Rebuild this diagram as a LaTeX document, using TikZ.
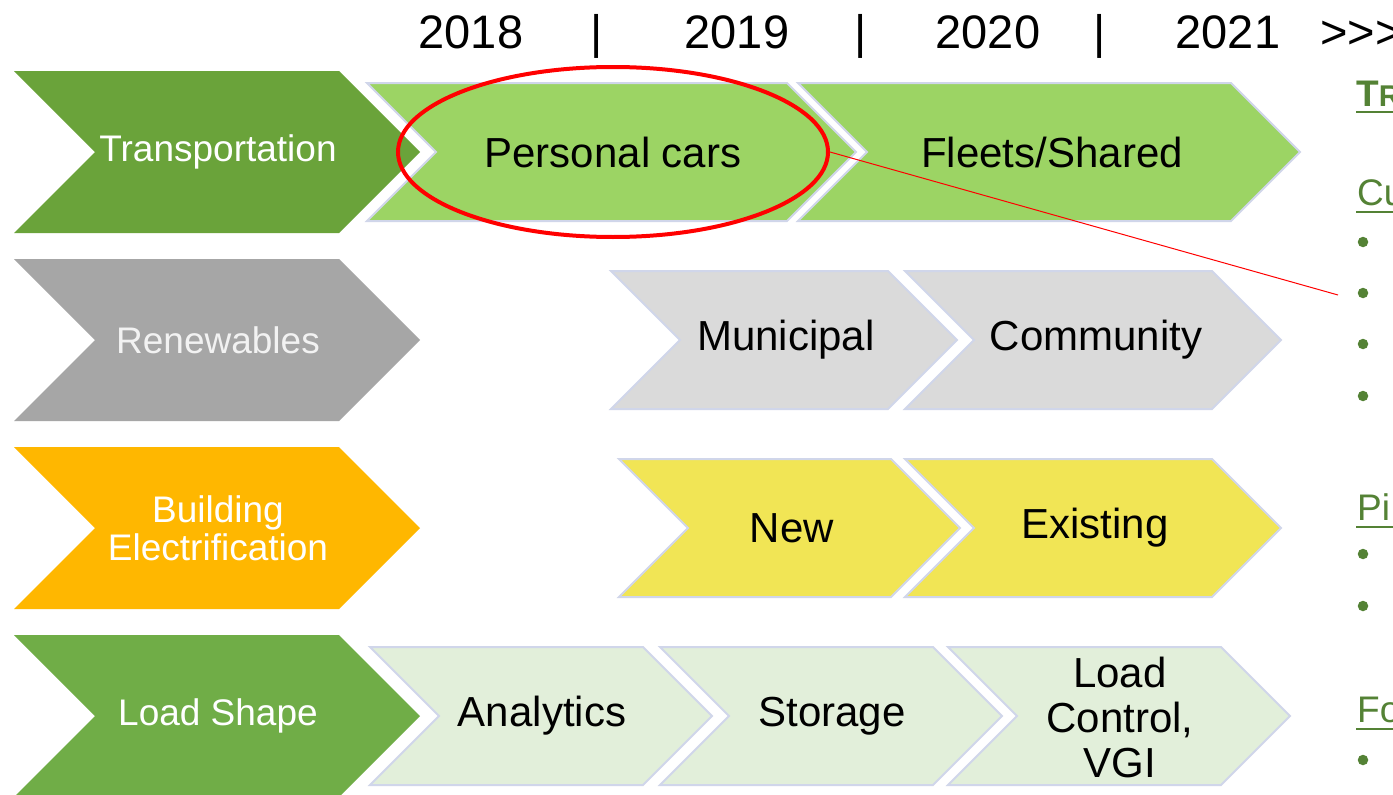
\documentclass[tikz,border=0pt]{standalone}
\usepackage{fontspec}
\setmainfont{Liberation Sans}
\usetikzlibrary{shapes.geometric}
\definecolor{dkgreen}{HTML}{6AA33A}
\definecolor{lsgreen}{HTML}{70AD47}
\definecolor{ltgreen}{HTML}{9CD464}
\definecolor{dkgray}{HTML}{A6A6A6}
\definecolor{ltgray}{HTML}{DADADA}
\definecolor{orangec}{HTML}{FFB700}
\definecolor{yellowc}{HTML}{F1E555}
\definecolor{palegreen}{HTML}{E2EFDA}
\definecolor{edgec}{HTML}{D0D6EA}
\definecolor{hgreen}{HTML}{548235}
\newcommand\chev[5]{% style, xleft, xtip, ycenter, half-height
  \path[#1] (#2,#4-#5) -- (#3-#5,#4-#5) -- (#3,#4) -- (#3-#5,#4+#5) -- (#2,#4+#5) -- (#2+#5,#4) -- cycle;}
\tikzset{
  bigchev/.style={fill=#1},
  smallchev/.style={fill=#1, draw=edgec, line width=2pt, line join=miter},
  lefttxt/.style={text=white, font=\fontsize{37}{38}\selectfont, align=center, inner sep=0pt},
  righttxt/.style={text=black, font=\fontsize{42}{45}\selectfont, align=center, inner sep=0pt},
  yeartxt/.style={text=black, font=\fontsize{47}{50}\selectfont, anchor=base, inner sep=0pt},
  headtxt/.style={text=hgreen, anchor=base west, inner sep=0pt},
  uline/.style={hgreen, line width=2.5pt},
  bullet/.style={circle, fill=hgreen, inner sep=0pt, minimum size=10.5pt}
}
\begin{document}
\begin{tikzpicture}[x=1pt, y=-1pt]
\useasboundingbox (0,0) rectangle (1393,795);
\fill[white] (0,0) rectangle (1393,795);

% year header
\node[yeartxt] (y18) at (471,48) {2018};
\node[yeartxt] (s1) at (597,48) {|};
\node[yeartxt] (y19) at (737,48) {2019};
\node[yeartxt] (s2) at (861,48) {|};
\node[yeartxt] (y20) at (988,48) {2020};
\node[yeartxt] (s3) at (1100,48) {|};
\node[yeartxt] (y21) at (1228,48) {2021};
\node[yeartxt, anchor=base west] (more) at (1320,48) {>{}>{}>};

% left chevrons
\chev{bigchev=dkgreen}{14}{420}{152}{81}
\chev{bigchev=dkgray}{14}{420}{340}{81}
\chev{bigchev=orangec}{14}{420}{528}{81}
\chev{bigchev=lsgreen}{14}{420}{716}{81}

\node[lefttxt] (tra) at (218,152) {Transportation};
\node[lefttxt, text=white!95!black] (ren) at (218,340) {Renewables};
\node[lefttxt] (bui) at (218,528) {Building\\Electrification};
\node[lefttxt] (loa) at (218,716) {Load Shape};

% row 1
\chev{smallchev=ltgreen}{367}{856}{152}{69}
\chev{smallchev=ltgreen}{798}{1300}{152}{69}
\node[righttxt] (per) at (613,152) {Personal cars};
\node[righttxt] (fle) at (1052,152) {Fleets/Shared};

% row 2
\chev{smallchev=ltgray}{611}{957}{340}{69}
\chev{smallchev=ltgray}{905}{1281}{340}{69}
\node[righttxt] (mun) at (786,340) {Municipal};
\node[righttxt] (com) at (1096,340) {Community};

% row 3
\chev{smallchev=yellowc}{619}{960}{528}{69}
\chev{smallchev=yellowc}{905}{1281}{528}{69}
\node[righttxt] (new) at (792,528) {New};
\node[righttxt] (exi) at (1095,528) {Existing};

% row 4
\chev{smallchev=palegreen}{370}{712}{716}{69}
\chev{smallchev=palegreen}{660}{1002}{716}{69}
\chev{smallchev=palegreen}{948}{1290}{716}{69}
\node[righttxt] (ana) at (542,716) {Analytics};
\node[righttxt] (sto) at (832,716) {Storage};
\node[righttxt] (lcv) at (1120,717) {Load\\Control,\\VGI};

% red highlight
\node[draw=red, line width=4pt, ellipse, minimum width=430pt, minimum height=170pt, inner sep=0pt] (ell) at (613,152) {};
\coordinate (callout) at (1338,295);
\draw[red, line width=1pt] (ell.east) -- (callout);

% right column (cut off at the edge, as in the reference)
\node[headtxt, font=\fontsize{37}{40}\selectfont\bfseries] (h0) at (1356,106) {T{\fontsize{30}{32}\selectfont R}};
\draw[uline] (1356,112) -- (1400,112);
\node[headtxt, font=\fontsize{37}{40}\selectfont] (h1) at (1357,205) {Cu};
\draw[uline] (1356,212) -- (1400,212);
\node[bullet] (b1) at (1363,242) {};
\node[bullet] (b2) at (1363,293) {};
\node[bullet] (b3) at (1363,344) {};
\node[bullet] (b4) at (1363,396) {};
\node[headtxt, font=\fontsize{37}{40}\selectfont] (h2) at (1357,520) {Pi};
\draw[uline] (1356,527) -- (1400,527);
\node[bullet] (b5) at (1363,554) {};
\node[bullet] (b6) at (1363,606) {};
\node[headtxt, font=\fontsize{37}{40}\selectfont] (h3) at (1357,722) {Fo};
\draw[uline] (1356,729) -- (1400,729);
\node[bullet] (b7) at (1363,760) {};
\end{tikzpicture}
\end{document}
